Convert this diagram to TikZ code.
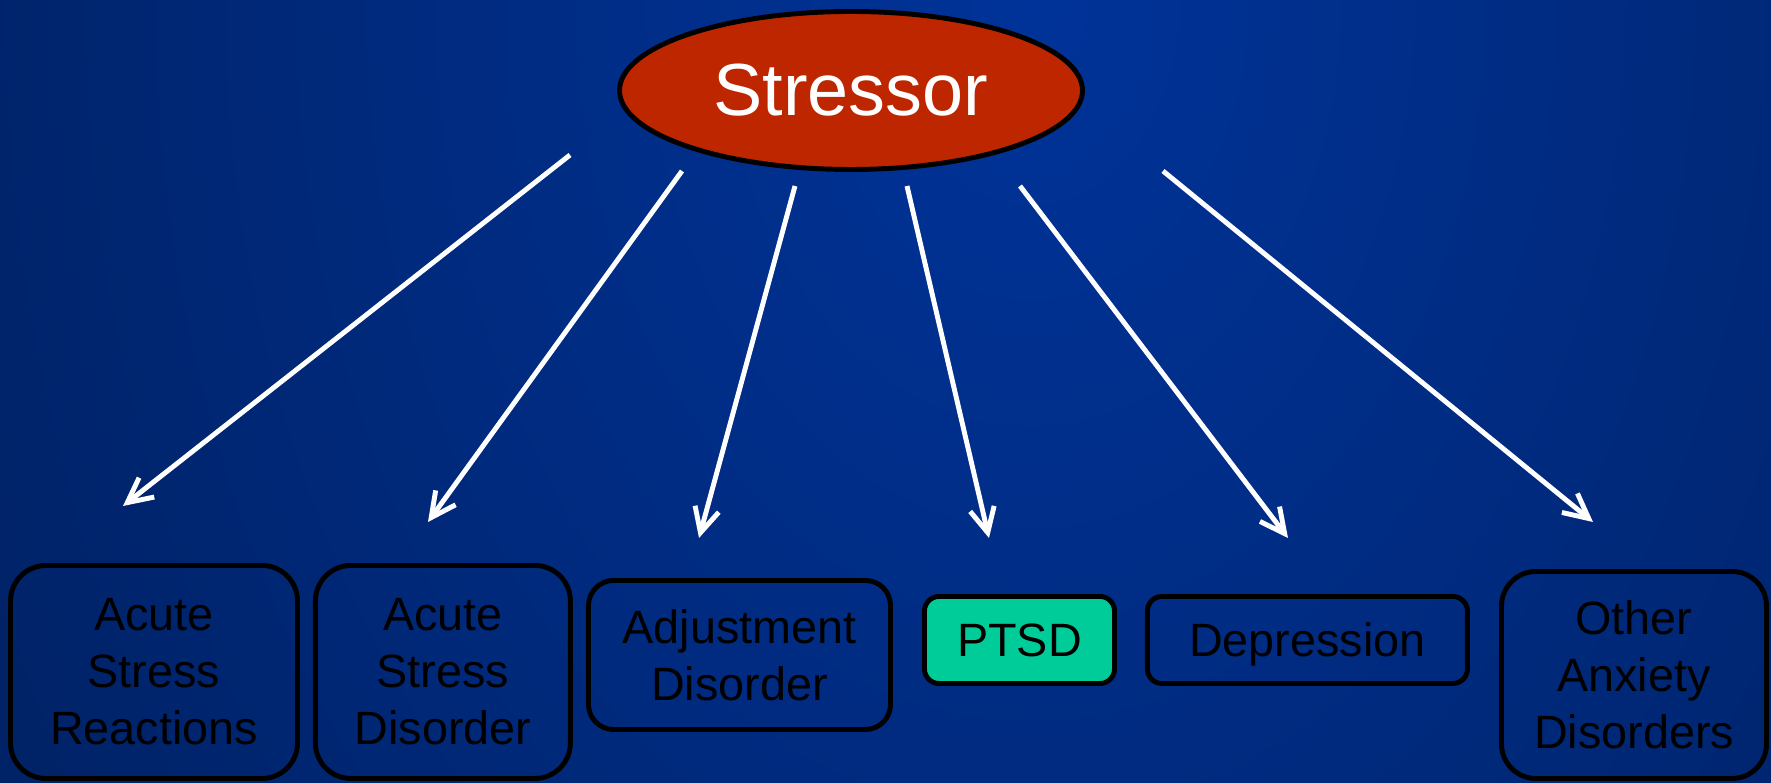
\documentclass[tikz,border=0pt]{standalone}
\usepackage{fontspec}
\setmainfont{Liberation Sans}
\usetikzlibrary{arrows.meta,positioning,shapes.geometric}
\definecolor{bginner}{RGB}{0,51,153}
\definecolor{bgouter}{RGB}{0,26,77}
\definecolor{stressred}{RGB}{190,38,0}
\definecolor{ptsdgreen}{RGB}{0,204,153}
\tikzset{
  outcomebox/.style={draw=black, line width=1.4pt, align=center, inner sep=2pt, text=black, font=\fontsize{13.3}{16.2}\selectfont},
  stressarrow/.style={-{Straight Barb[length=7pt,width=7pt]}, draw=white, line width=1.4pt}
}

\begin{document}
\begin{tikzpicture}
  \useasboundingbox (0,0) rectangle (17.71,7.83);
  \begin{scope}
    \clip (0,0) rectangle (17.71,7.83);
    \shade[inner color=bginner, outer color=bgouter] (10.3,7.83) ellipse (17.5 and 24);
  \end{scope}

  \node[ellipse, draw=black, line width=1.4pt, fill=stressred, minimum width=4.63cm, minimum height=1.58cm, text=white, font=\fontsize{21}{25}\selectfont] (stressor) at (8.51,6.925) {Stressor};

  \node[outcomebox, rounded corners=0.355cm, minimum width=2.87cm, minimum height=2.13cm] (asr) at (1.54,1.11) {Acute\\Stress\\Reactions};
  \node[outcomebox, rounded corners=0.355cm, minimum width=2.55cm, minimum height=2.13cm, right=0.13cm of asr] (asd) {Acute\\Stress\\Disorder};
  \node[outcomebox, rounded corners=0.25cm, minimum width=3.02cm, minimum height=1.49cm] (adj) at (7.395,1.28) {Adjustment\\Disorder};
  \node[outcomebox, rounded corners=0.145cm, fill=ptsdgreen, minimum width=1.9cm, minimum height=0.87cm] (ptsd) at (10.195,1.43) {PTSD};
  \node[outcomebox, rounded corners=0.145cm, minimum width=3.2cm, minimum height=0.87cm, text depth=0pt, right=0.28cm of ptsd] (dep) {Depression};
  \node[outcomebox, rounded corners=0.345cm, minimum width=2.65cm, minimum height=2.07cm] (oad) at (16.34,1.08) {Other\\Anxiety\\Disorders};

  % arrow ends
  \coordinate (s1) at (5.70,6.28);  \coordinate (e1) at (1.23,2.77);
  \coordinate (s2) at (6.82,6.12);  \coordinate (e2) at (4.28,2.61);
  \coordinate (s3) at (7.95,5.97);  \coordinate (e3) at (6.99,2.45);
  \coordinate (s4) at (9.07,5.97);  \coordinate (e4) at (9.89,2.45);
  \coordinate (s5) at (10.20,5.97); \coordinate (e5) at (12.88,2.45);
  \coordinate (s6) at (11.63,6.12); \coordinate (e6) at (15.93,2.61);

  \draw[stressarrow] (s1) -- (e1);
  \draw[stressarrow] (s2) -- (e2);
  \draw[stressarrow] (s3) -- (e3);
  \draw[stressarrow] (s4) -- (e4);
  \draw[stressarrow] (s5) -- (e5);
  \draw[stressarrow] (s6) -- (e6);
\end{tikzpicture}
\end{document}
